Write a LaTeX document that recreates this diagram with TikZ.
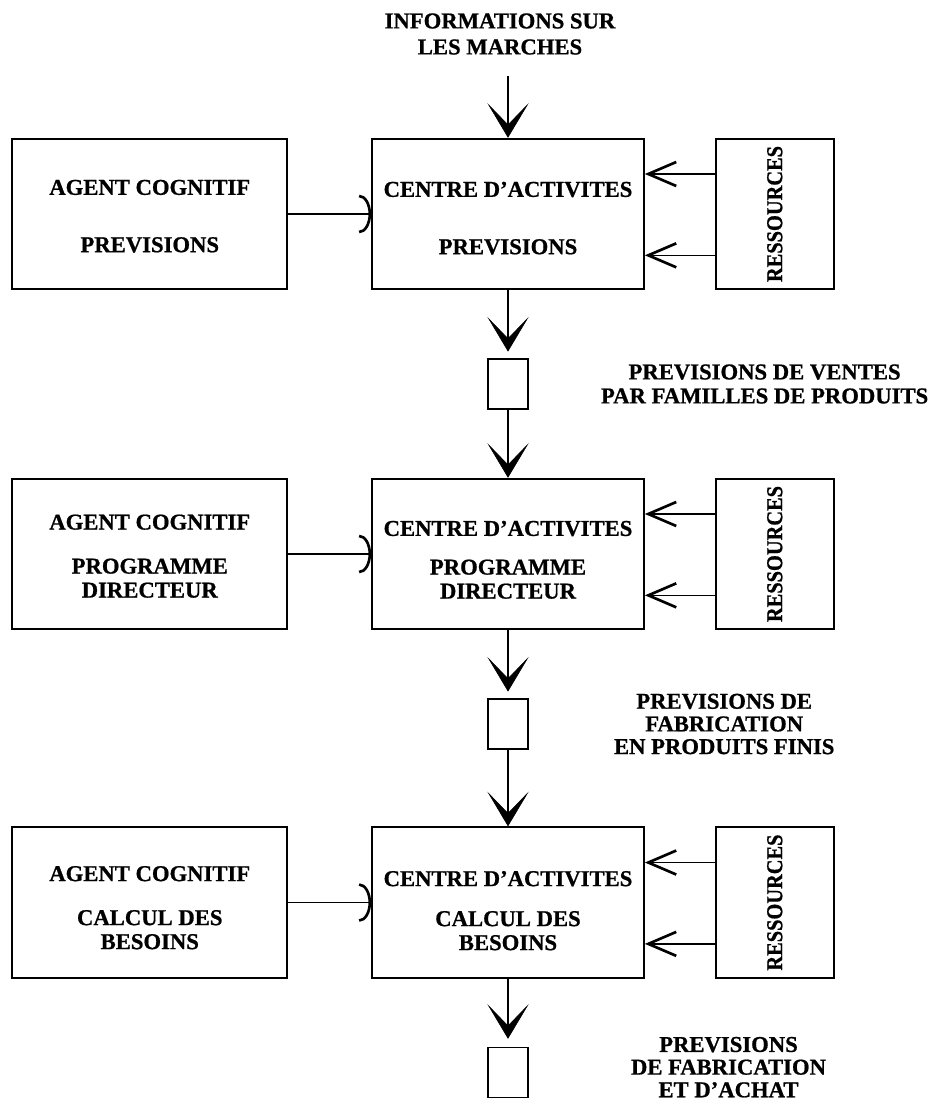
\documentclass[tikz,border=0pt]{standalone}
\usepackage{fontspec}
\setmainfont{Liberation Serif}[BoldFeatures={FakeBold=0.8}]
\usepackage{tikz}
\usetikzlibrary{positioning, arrows.meta}

\begin{document}
\begin{tikzpicture}[node distance=127.5pt]
    \tikzstyle{centrebox} = [rectangle, minimum width=204pt, minimum height=113pt, align=center, inner sep=0pt, draw=black, line width=1.3pt, font=\bfseries\fontsize{17pt}{18pt}\selectfont]
    \tikzstyle{agentbox} = [rectangle, minimum width=206.25pt, minimum height=113pt, align=center, inner sep=0pt, draw=black, line width=1.3pt, font=\bfseries\fontsize{17pt}{18pt}\selectfont]
    \tikzstyle{resbox} = [rectangle, minimum width=88.5pt, minimum height=113pt, inner sep=0pt, draw=black, line width=1.3pt, font=\bfseries\fontsize{17pt}{18pt}\selectfont]
    \tikzstyle{storebox} = [rectangle, minimum width=30pt, minimum height=37.5pt, inner sep=0pt, draw=black, line width=1.1pt]
    \tikzstyle{flowtext} = [align=center, inner sep=0pt, font=\bfseries\fontsize{17pt}{18pt}\selectfont]
    \tikzstyle{flow} = [line width=2pt, -{Stealth[length=26pt, width=31pt, inset=16pt, line width=0.4pt]}]
    \tikzstyle{feed} = [line width=1.2pt, -{Straight Barb[length=21pt, width=18pt, line width=2pt]}]
    \tikzstyle{advice} = [line width=1.2pt, -{Arc Barb[length=9pt, width=29pt, line width=2pt]}]

    \useasboundingbox (0,0) rectangle (699pt,-826.5pt);

    % main column
    \node (ctr1) [centrebox] at (381pt,-160.5pt) {\rule{0pt}{17.5pt}CENTRE D'ACTIVITES\\[25pt]PREVISIONS};
    \node (sq1) [storebox, below of=ctr1] {};
    \node (ctr2) [centrebox, below of=sq1] {\rule{0pt}{20pt}CENTRE D'ACTIVITES\\[11pt]PROGRAMME\\DIRECTEUR};
    \node (sq2) [storebox, below of=ctr2] {};
    \node (ctr3) [centrebox, below of=sq2, yshift=-6.4pt] {\rule{0pt}{23.5pt}CENTRE D'ACTIVITES\\[12pt]CALCUL DES\\BESOINS};
    \node (sq3) [storebox, below of=ctr3] {};

    % agents
    \node (agent1) [agentbox, left=62.25pt of ctr1] {\rule{0pt}{14.5pt}AGENT COGNITIF\\[25pt]PREVISIONS};
    \node (agent2) [agentbox, left=62.25pt of ctr2] {\rule{0pt}{14.5pt}AGENT COGNITIF\\[15pt]PROGRAMME\\DIRECTEUR};
    \node (agent3) [agentbox, left=62.25pt of ctr3] {\rule{0pt}{19pt}AGENT COGNITIF\\[15pt]CALCUL DES\\BESOINS};

    % resources
    \node (res1) [resbox, right=52.5pt of ctr1] {\rotatebox{90}{\scalebox{0.9}[1]{RESSOURCES}}};
    \node (res2) [resbox, right=52.5pt of ctr2] {\rotatebox{90}{\scalebox{0.9}[1]{RESSOURCES}}};
    \node (res3) [resbox, right=52.5pt of ctr3] {\rotatebox{90}{\scalebox{0.9}[1]{RESSOURCES}}};

    % flows
    \node (info) [flowtext, node distance=135pt, above of=ctr1, xshift=-6pt, font=\bfseries\fontsize{17pt}{19.5pt}\selectfont] {INFORMATIONS SUR\\LES MARCHES};
    \coordinate (inflow) at ([yshift=46.5pt]ctr1.north);
    \node (out1) [flowtext, right=54pt of sq1] {PREVISIONS DE VENTES\\PAR FAMILLES DE PRODUITS};
    \node (out2) [flowtext, right=63.75pt of sq2, font=\bfseries\fontsize{17pt}{17pt}\selectfont] {PREVISIONS DE\\FABRICATION\\EN PRODUITS FINIS};
    \node (out3) [flowtext, right=76.5pt of sq3, yshift=4pt, font=\bfseries\fontsize{17pt}{17pt}\selectfont] {PREVISIONS\\DE FABRICATION\\ET D'ACHAT};

    \draw [flow] (inflow) -- (ctr1);
    \draw [flow, shorten >=5pt] (ctr1) -- (sq1);
    \draw [flow] (sq1) -- (ctr2);
    \draw [flow, shorten >=5pt] (ctr2) -- (sq2);
    \draw [flow] (sq2) -- (ctr3);
    \draw [flow, shorten >=6pt] (ctr3) -- (sq3);

    \draw [advice] (agent1) -- (ctr1);
    \draw [advice] (agent2) -- (ctr2);
    \draw [advice] (agent3) -- (ctr3);

    \draw [feed] ([yshift=30pt]res1.west) -- ([yshift=30pt]ctr1.east);
    \draw [feed] ([yshift=-31pt]res1.west) -- ([yshift=-31pt]ctr1.east);
    \draw [feed] ([yshift=30pt]res2.west) -- ([yshift=30pt]ctr2.east);
    \draw [feed] ([yshift=-31pt]res2.west) -- ([yshift=-31pt]ctr2.east);
    \draw [feed] ([yshift=30pt]res3.west) -- ([yshift=30pt]ctr3.east);
    \draw [feed] ([yshift=-31pt]res3.west) -- ([yshift=-31pt]ctr3.east);
\end{tikzpicture}
\end{document}
